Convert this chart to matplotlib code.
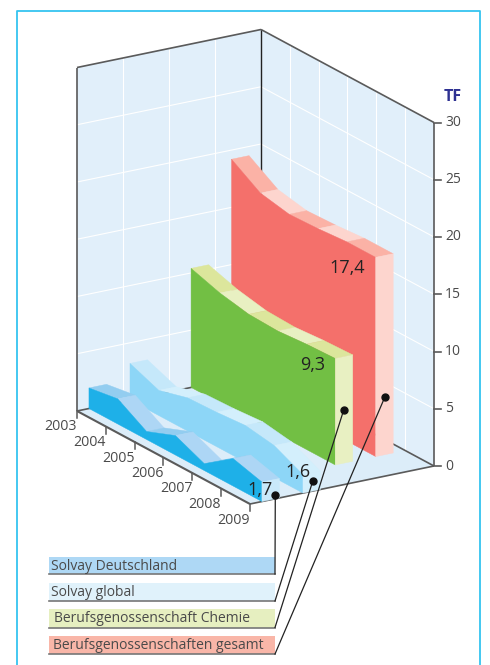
import matplotlib
matplotlib.use('Agg')
import matplotlib.pyplot as plt
from matplotlib.patches import Polygon, Rectangle

plt.rcParams['font.family'] = ['Open Sans', 'DejaVu Sans']

# data
years = [2003, 2004, 2005, 2006, 2007, 2008, 2009]
solvay_de = [1.8, 2.2, 0.7, 1.7, 0.6, 2.4, 1.7]
solvay_global = [3.2, 2.2, 2.9, 3.0, 3.2, 2.8, 1.6]
bg_chemie = [10.4, 9.6, 9.1, 9.0, 9.2, 9.3]
bg_gesamt = [19.2, 17.6, 17.1, 17.2, 17.4, 17.4]
z_ticks = [0, 5, 10, 15, 20, 25, 30]
legend_names = ['Solvay Deutschland', 'Solvay global',
                'Berufsgenossenschaft Chemie', 'Berufsgenossenschaften gesamt']

GRAY = '#5a5a5a'
TEXT = '#4a4a4a'


def proj(year, depth, value):
    # oblique projection: year runs down-right, depth up-right
    x = 77 + (year - 2003) * 28.83 + depth * 184
    y = 411 + (year - 2003) * 15.5 - depth * 38 - value * 11.45
    return x, y


fig = plt.figure(figsize=(4.9, 6.65), dpi=100)
ax = fig.add_axes([0, 0, 1, 1])
ax.set_xlim(0, 490)
ax.set_ylim(665, 0)
ax.axis('off')


def face(pts, color, z=2):
    ax.add_patch(Polygon(pts, closed=True, fc=color, ec=color, lw=0.3, zorder=z))


def line3(a, b, color=GRAY, lw=1.2, z=1.5):
    p, q = proj(*a), proj(*b)
    ax.plot([p[0], q[0]], [p[1], q[1]], color=color, lw=lw, zorder=z,
            solid_capstyle='butt')


# frame round the page
ax.plot([16.5, 16.5, 480, 480], [665, 10.5, 10.5, 665], color='#35c4f0', lw=1.3, zorder=0)

# walls and floor
face([proj(2003, 0, 0), proj(2003, 1, 0), proj(2003, 1, 30), proj(2003, 0, 30)], '#e1effa', 1)
face([proj(2003, 1, 0), proj(2009, 1, 0), proj(2009, 1, 30), proj(2003, 1, 30)], '#e1effa', 1)
face([proj(2003, 0, 0), proj(2009, 0, 0), proj(2009, 1, 0), proj(2003, 1, 0)], '#dcedf9', 1)

for v in z_ticks[1:-1]:
    line3((2003, 0, v), (2003, 1, v), 'white', 0.8, 1.2)
    line3((2003, 1, v), (2009, 1, v), 'white', 0.8, 1.2)
for d in [0.25, 0.5, 0.75]:
    line3((2003, d, 0), (2003, d, 30), 'white', 0.8, 1.2)
for yr in years[1:-1]:
    line3((yr, 1, 0), (yr, 1, 30), 'white', 0.8, 1.2)

# outline
line3((2003, 0, 0), (2003, 0, 30))
line3((2003, 0, 30), (2003, 1, 30))
line3((2003, 1, 30), (2009, 1, 30))
line3((2009, 1, 30), (2009, 1, 0))
line3((2003, 1, 0), (2003, 1, 30), '#222222', 1.0)
line3((2003, 0, 0), (2009, 0, 0), GRAY, 1.5)
line3((2009, 0, 0), (2009, 1, 0), GRAY, 1.2)
line3((2003, 0, 0), (2003, 1, 0), GRAY, 1.2)
line3((2003, 1, 0), (2009, 1, 0), GRAY, 1.2)

# ticks
for yr in years:
    x, y = proj(yr, 0, 0)
    ax.plot([x, x], [y, y + 7], color=GRAY, lw=1.1, zorder=1.5)
    ax.text(x, y + 16, str(yr), ha='right', va='center', fontsize=10.2, color=TEXT)
for v in z_ticks:
    x, y = proj(2009, 1, v)
    ax.plot([x, x + 7], [y, y], color=GRAY, lw=1.2, zorder=1.5)
    ax.text(x + 11, y, str(v), ha='left', va='center', fontsize=10, color=TEXT)
ax.text(453, 97, 'TF', ha='center', va='center', fontsize=11.5, fontweight='bold', color='#2e3192')


def ribbon(yrs, vals, depth, front, top1, top2, cap, z):
    w = 0.095
    for i in range(len(yrs) - 1):
        color = top1 if i % 2 == 0 else top2
        face([proj(yrs[i], depth, vals[i]), proj(yrs[i + 1], depth, vals[i + 1]),
              proj(yrs[i + 1], depth + w, vals[i + 1]), proj(yrs[i], depth + w, vals[i])], color, z)
    pts = [proj(yr, depth, 0) for yr in yrs]
    pts += [proj(yr, depth, v) for yr, v in zip(yrs[::-1], vals[::-1])]
    face(pts, front, z + 0.1)
    face([proj(yrs[-1], depth, 0), proj(yrs[-1], depth + w, 0),
          proj(yrs[-1], depth + w, vals[-1]), proj(yrs[-1], depth, vals[-1])], cap, z + 0.1)


ribbon(years[:-1], bg_gesamt, 0.84, '#f4706b', '#fbb2a6', '#fdd5ce', '#fdd5ce', 2)
ribbon(years[:-1], bg_chemie, 0.62, '#72bf44', '#dce69c', '#e8f0c2', '#e8f0c2', 3)
ribbon(years, solvay_global, 0.288, '#8dd6f7', '#c5e8fa', '#d3effc', '#d3effc', 4)
ribbon(years, solvay_de, 0.065, '#1eb0e8', '#93cdf0', '#add6f5', '#c9e9fa', 5)

# value labels
for x, y, s in [(260, 490, '1,7'), (298, 472, '1,6'), (313, 365, '9,3'), (347, 268, '17,4')]:
    ax.text(x, y, s, ha='center', va='center', fontsize=13, color='#222222', zorder=8)

# legend bars and leaders
bar_top = [557, 583, 609, 636]
bar_bot = [574, 601, 627.5, 654]
bar_col = ['#aed8f5', '#e0f2fb', '#e6efc0', '#f9b6a8']
text_x = [51, 51, 54, 53]
dots = [(275.3, 494.7), (312.7, 481.3), (343.7, 410), (385, 396.7)]
for i, name in enumerate(legend_names):
    ax.add_patch(Rectangle((49, bar_top[i]), 226, bar_bot[i] - bar_top[i], fc=bar_col[i], ec='none', zorder=6))
    ax.plot([49, 275], [bar_bot[i], bar_bot[i]], color='#777777', lw=1.2, zorder=6)
    ax.text(text_x[i], (bar_top[i] + bar_bot[i]) / 2 + 0.7, name, ha='left', va='center',
            fontsize=10, color=TEXT, zorder=7)
    ax.plot([275, dots[i][0]], [bar_bot[i], dots[i][1]], color='#222222', lw=0.9, zorder=9)
    ax.plot(dots[i][0], dots[i][1], 'o', ms=5, color='#111111', zorder=10)

fig.savefig('out.png', dpi=100)
